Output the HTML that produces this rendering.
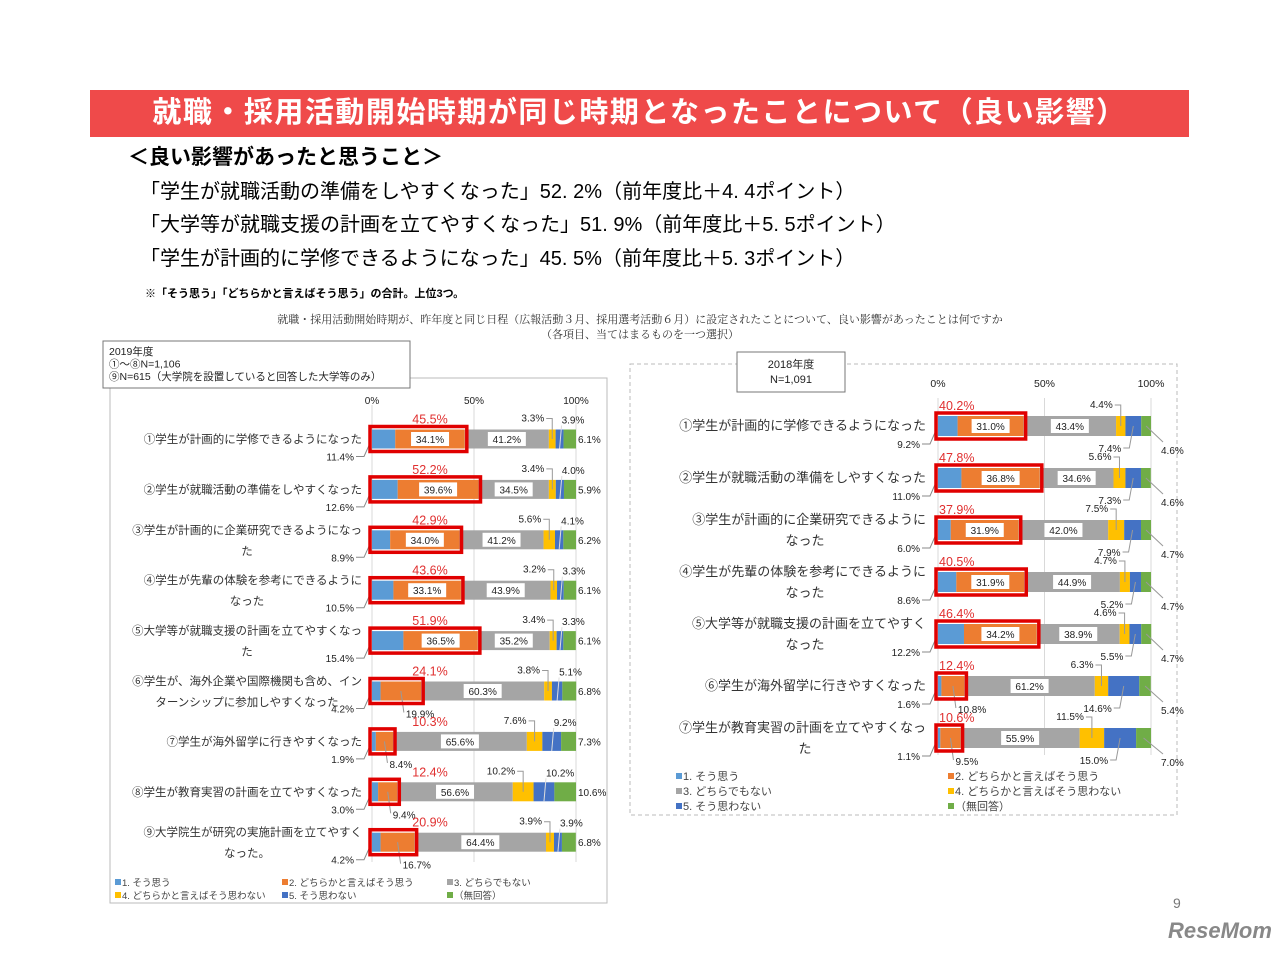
<!DOCTYPE html>
<html><head><meta charset="utf-8">
<style>
body{margin:0;background:#fff;}
#page{position:relative;width:1280px;height:955px;overflow:hidden;font-family:"Liberation Sans","Noto Sans CJK JP",sans-serif;}
.abs{position:absolute;white-space:nowrap;}
</style></head>
<body>
<div id="page">
<div class="abs" style="left:90px;top:90px;width:1099px;height:47px;background:#ef4a4a;color:#fff;font-weight:bold;font-size:29px;line-height:47px;text-align:center;letter-spacing:1.5px;">就職・採用活動開始時期が同じ時期となったことについて（良い影響）</div>
<div class="abs" style="left:128px;top:141px;font-size:21px;font-weight:bold;">＜良い影響があったと思うこと＞</div>
<div class="abs" style="left:140px;top:175px;font-size:20px;">「学生が就職活動の準備をしやすくなった」52. 2%（前年度比＋4. 4ポイント）</div>
<div class="abs" style="left:140px;top:208px;font-size:20px;">「大学等が就職支援の計画を立てやすくなった」51. 9%（前年度比＋5. 5ポイント）</div>
<div class="abs" style="left:140px;top:242px;font-size:20px;">「学生が計画的に学修できるようになった」45. 5%（前年度比＋5. 3ポイント）</div>
<div class="abs" style="left:145px;top:285px;font-size:11px;font-weight:bold;">※「そう思う」「どちらかと言えばそう思う」の合計。上位3つ。</div>
<div class="abs" style="left:0;width:1280px;top:313px;font-size:11px;color:#333;text-align:center;font-family:'Liberation Serif','Noto Serif CJK SC',serif;line-height:15px;">就職・採用活動開始時期が、昨年度と同じ日程（広報活動３月、採用選考活動６月）に設定されたことについて、良い影響があったことは何ですか<br>（各項目、当てはまるものを一つ選択）</div>
<div class="abs" style="left:1173px;top:895px;font-size:14px;color:#777;">9</div>
<div class="abs" style="left:1168px;top:918px;font-size:22px;font-weight:bold;color:#888;font-style:italic;">ReseMom</div>
<svg id="chart" width="1280" height="955" style="position:absolute;left:0;top:0"></svg>
</div>
<script>
const colors=["#5b9bd5","#ed7d31","#a5a5a5","#ffc000","#4472c4","#70ad47"];
const legendLabels=["1. そう思う","2. どちらかと言えばそう思う","3. どちらでもない","4. どちらかと言えばそう思わない","5. そう思わない","（無回答）"];
const leftCats=[["①学生が計画的に学修できるようになった"],["②学生が就職活動の準備をしやすくなった"],["③学生が計画的に企業研究できるようになっ","た"],["④学生が先輩の体験を参考にできるように","なった"],["⑤大学等が就職支援の計画を立てやすくなっ","た"],["⑥学生が、海外企業や国際機関も含め、イン","ターンシップに参加しやすくなった"],["⑦学生が海外留学に行きやすくなった"],["⑧学生が教育実習の計画を立てやすくなった"],["⑨大学院生が研究の実施計画を立てやすく","なった。"]];
const leftVals=[[11.4,34.1,41.2,3.3,3.9,6.1],[12.6,39.6,34.5,3.4,4.0,5.9],[8.9,34.0,41.2,5.6,4.1,6.2],[10.5,33.1,43.9,3.2,3.3,6.1],[15.4,36.5,35.2,3.4,3.3,6.1],[4.2,19.9,60.3,3.8,5.1,6.8],[1.9,8.4,65.6,7.6,9.2,7.3],[3.0,9.4,56.6,10.2,10.2,10.6],[4.2,16.7,64.4,3.9,3.9,6.8]];
const rightCats=[["①学生が計画的に学修できるようになった"],["②学生が就職活動の準備をしやすくなった"],["③学生が計画的に企業研究できるように","なった"],["④学生が先輩の体験を参考にできるように","なった"],["⑤大学等が就職支援の計画を立てやすく","なった"],["⑥学生が海外留学に行きやすくなった"],["⑦学生が教育実習の計画を立てやすくなっ","た"]];
const rightVals=[[9.2,31.0,43.4,4.4,7.4,4.6],[11.0,36.8,34.6,5.6,7.3,4.6],[6.0,31.9,42.0,7.5,7.9,4.7],[8.6,31.9,44.9,4.7,5.2,4.7],[12.2,34.2,38.9,4.6,5.5,4.7],[1.6,10.8,61.2,6.3,14.6,5.4],[1.1,9.5,55.9,11.5,15.0,7.0]];
const ticks=[0,50,100];

const svg=document.getElementById('chart');
const NS="http://www.w3.org/2000/svg";
function el(tag,attrs,parent){const e=document.createElementNS(NS,tag);for(const k in attrs)e.setAttribute(k,attrs[k]);(parent||svg).appendChild(e);return e;}
function txt(s,x,y,size,fill,anchor,parent){const t=el('text',{x:x,y:y,'font-size':size,fill:fill||'#222','text-anchor':anchor||'start','font-family':'"Liberation Sans","Noto Sans CJK JP",sans-serif'},parent);t.textContent=s;return t;}

function drawChart(cfg){
  const g=el('g',{});
  
  
  const sx=v=>cfg.x0+v*cfg.scale;
  const fr=el('rect',{x:cfg.frame[0],y:cfg.frame[1],width:cfg.frame[2],height:cfg.frame[3],fill:'none',stroke:'#bbb','stroke-dasharray':cfg.dash||'none'},g);
  
  
  ticks.forEach(t=>{
    const l=el('line',{x1:sx(t),x2:sx(t),y1:cfg.gridTop,y2:cfg.gridBot,stroke:'#d9d9d9'},g);
    
    
    const tl=txt(t+'%',sx(t),cfg.tickY,cfg.tickSize,'#222','middle',g);
    
    
  });
  cfg.vals.forEach((vals,i)=>{
    const yc=cfg.rowY0+i*cfg.rowStep, h=cfg.barH, yt=yc-h/2;
    let acc=0; const starts=[];
    vals.forEach((v,j)=>{
      starts.push(acc);
      const r=el('rect',{x:sx(acc),y:yt,width:v*cfg.scale,height:h,fill:colors[j]},g);
      
      
      acc+=v;
    });
    const lines=cfg.cats[i];
    if(lines.length===1){
      const t=txt(lines[0],cfg.labelX,yc+4,cfg.catSize,'#333','end',g);
      
      
    } else {
      const t=txt(lines[0],cfg.labelX,yc-6,cfg.catSize,'#333','end',g);
      
      
      const t2=txt(lines[1],cfg.line2X,yc+15,cfg.catSize,'#333','middle',g);
      
      
    }
    const vs=cfg.valSize;
    const l1=txt(vals[0].toFixed(1)+'%',cfg.x0-18,yc+h/2+12,vs,'#222','end',g);
    
    
    el('polyline',{points:`${cfg.x0-16},${yc+h/2+8} ${cfg.x0-8},${yc+h/2+8} ${cfg.x0-1},${yc+2}`,fill:'none',stroke:'#888'},g);
    const m2=sx(starts[1]+vals[1]/2);
    if(vals[1]>=25){
      el('rect',{x:m2-19,y:yc-7,width:38,height:14,fill:'#fff'},g);
      const l=txt(vals[1].toFixed(1)+'%',m2,yc+4,vs,'#222','middle',g);
      
      
    } else {
      const l=txt(vals[1].toFixed(1)+'%',m2+5,yc+h/2+17,vs,'#222','start',g);
      
      
      el('polyline',{points:`${m2},${yc} ${m2+3},${yc+h/2+12}`,fill:'none',stroke:'#999'},g);
    }
    const m3=sx(starts[2]+vals[2]/2);
    el('rect',{x:m3-19,y:yc-7,width:38,height:14,fill:'#fff'},g);
    const l3=txt(vals[2].toFixed(1)+'%',m3,yc+4,vs,'#222','middle',g);
    
    
    const x4=sx(starts[3]+vals[3]/2);
    const y4=yt-8;
    const l4=txt(vals[3].toFixed(1)+'%',x4-8,y4,vs,'#222','end',g);
    
    
    el('polyline',{points:`${x4-6},${y4-3} ${x4},${y4-3} ${x4},${yc}`,fill:'none',stroke:'#999'},g);
    const x5=sx(starts[4]+vals[4]/2);
    if(cfg.side==='left'){
      const l5=txt(vals[4].toFixed(1)+'%',x5+2,yt-6,vs,'#222','start',g);
      
      
      el('line',{x1:x5+2,y1:yt-4,x2:x5,y2:yc+h/2,stroke:'#ddd'},g);
      const l6=txt(vals[5].toFixed(1)+'%',sx(100)+2,yc+4,vs,'#222','start',g);
      
      
    } else {
      const l5=txt(vals[4].toFixed(1)+'%',x5-12,yc+h/2+16,vs,'#222','end',g);
      
      
      el('polyline',{points:`${x5-10},${yc+h/2+12} ${x5-4},${yc+h/2+12} ${x5},${yc}`,fill:'none',stroke:'#999'},g);
      const x6=sx(starts[5]+vals[5]/2);
      const l6=txt(vals[5].toFixed(1)+'%',sx(100)+10,yc+h/2+18,vs,'#222','start',g);
      
      
      el('line',{x1:x6,y1:yc,x2:sx(100)+12,y2:yc+h/2+6,stroke:'#999'},g);
    }
    const tot=vals[0]+vals[1];
    const rb=el('rect',{x:cfg.x0-2,y:yt-3,width:tot*cfg.scale+4,height:h+6,fill:'none',stroke:'#e00000','stroke-width':3.5},g);
    
    
    const rt=txt(tot.toFixed(1)+'%',cfg.side==='left'?430:cfg.x0+1,yt-6,12.5,'#e03030',cfg.side==='left'?'middle':'start',g);
    
    
  });
  cfg.legend.forEach((p,j)=>{
    const sw=el('rect',{x:p[0],y:p[1]-7,width:6,height:6,fill:colors[j]},g);
    
    
    const lt=txt(legendLabels[j],p[0]+7,p[1],cfg.legSize,'#444','start',g);
    
    
  });
}

drawChart({name:'chart-2019',side:'left',vals:leftVals,cats:leftCats,x0:372,scale:2.04,rowY0:439,rowStep:50.4,barH:19,
  frame:[110,378,497,525],gridTop:405,gridBot:862,tickY:404,tickSize:10,labelX:362,line2X:247,catSize:11.5,valSize:10,legSize:9.5,
  legend:[[115,886],[282,886],[447,886],[115,899],[282,899],[447,899]]});
drawChart({name:'chart-2018',side:'right',vals:rightVals,cats:rightCats,x0:938,scale:2.13,rowY0:426,rowStep:52,barH:20,
  frame:[630,364,547,451],dash:'4,3',gridTop:398,gridBot:755,tickY:387,tickSize:10.5,labelX:926,line2X:805,catSize:13,valSize:10,legSize:11,
  legend:[[676,780],[948,780],[676,795],[948,795],[676,810],[948,810]]});

function capBox(name,x,y,w,h,lines,anchor){
  const g=el('g',{});
  
  
  el('rect',{x:x,y:y,width:w,height:h,fill:'#fff',stroke:'#777'},g);
  lines.forEach((s,i)=>{
    if(anchor==='middle')txt(s,x+w/2,y+16+i*15,11,'#222','middle',g);
    else txt(s,x+6,y+14+i*12.5,10.5,'#222','start',g);
  });
}
capBox('caption-2019',103,341,307,47,['2019年度','①～⑧N=1,106','⑨N=615（大学院を設置していると回答した大学等のみ）'],'start');
capBox('caption-2018',737,352,108,40,['2018年度','N=1,091'],'middle');
</script>
</body></html>
